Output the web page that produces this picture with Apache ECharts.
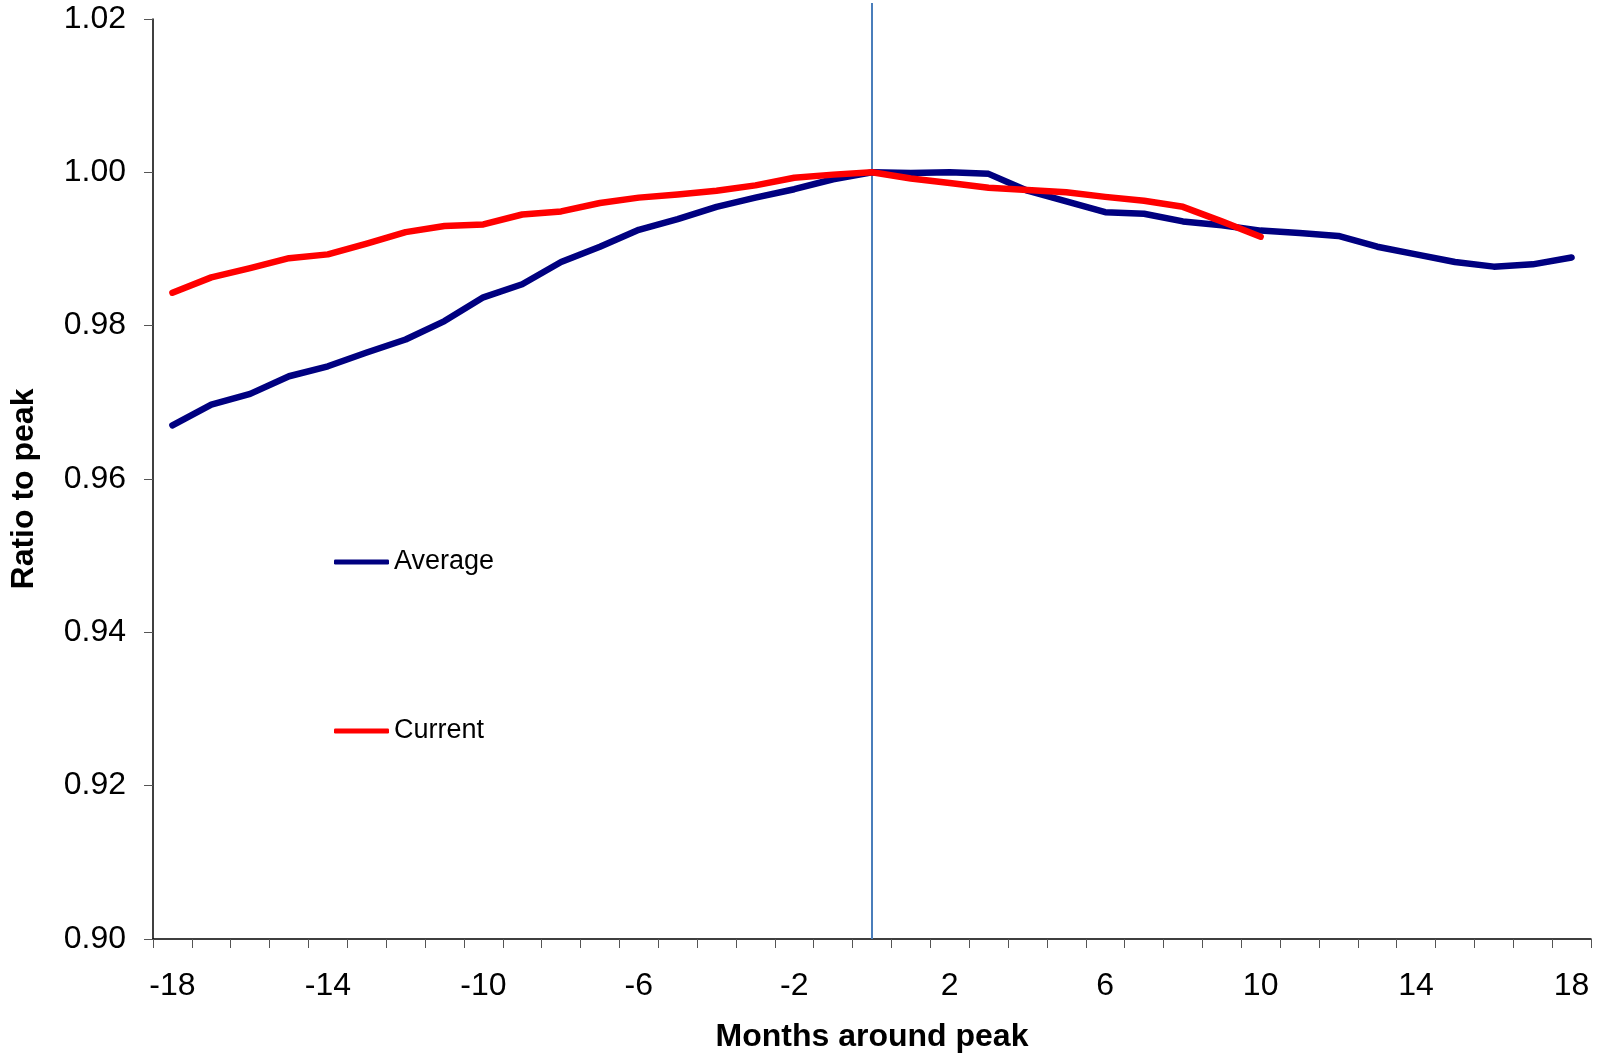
<!DOCTYPE html>
<html>
<head>
<meta charset="utf-8">
<script src="https://cdn.jsdelivr.net/npm/echarts@6/dist/echarts.min.js"></script>
<style>
html,body{margin:0;padding:0;background:#fff;}
#chart{width:1609px;height:1058px;}
</style>
</head>
<body>
<div id="chart"></div>
<script>
const months = ['-18','-17','-16','-15','-14','-13','-12','-11','-10','-9','-8','-7','-6','-5','-4','-3','-2','-1','0','1','2','3','4','5','6','7','8','9','10','11','12','13','14','15','16','17','18'];
const average = [0.9670,0.9697,0.9711,0.9734,0.9747,0.9765,0.9782,0.9806,0.9837,0.9854,0.9883,0.9903,0.9925,0.9939,0.9955,0.9967,0.9978,0.9991,1.0000,
                 0.9999,1.0000,0.9998,0.9976,0.9962,0.9948,0.9946,0.9936,0.9931,0.9924,0.9921,0.9917,0.9903,0.9893,0.9883,0.9877,0.9880,0.9889];
const current = [0.9843,0.9863,0.9875,0.9888,0.9893,0.9907,0.9922,0.9930,0.9932,0.9945,0.9949,0.9960,0.9967,0.9971,0.9976,0.9983,0.9993,0.9997,1.0000,
                 0.9992,0.9986,0.9980,0.9977,0.9974,0.9968,0.9963,0.9955,0.9936,0.9916];
const peakMonth = '0';
const peakLine = [0.90, 1.0221];
const yTicks = {min: 0.90, max: 1.02, interval: 0.02};

const FONT = '"Liberation Sans", Arial, sans-serif';
const chart = echarts.init(document.getElementById('chart'));
chart.setOption({
  animation: false,
  backgroundColor: '#ffffff',
  grid: {left: 152, right: 18, top: 19, bottom: 117, containLabel: false},
  legend: [
    {data: ['Average'], orient: 'vertical', left: 334, top: 547, padding: 0,
     icon: 'roundRect', itemWidth: 55, itemHeight: 5,
     textStyle: {fontFamily: FONT, fontSize: 27, color: '#000', lineHeight: 30}},
    {data: ['Current'], orient: 'vertical', left: 334, top: 716, padding: 0,
     icon: 'roundRect', itemWidth: 55, itemHeight: 5,
     textStyle: {fontFamily: FONT, fontSize: 27, color: '#000', lineHeight: 30}}
  ],
  xAxis: {
    type: 'category',
    data: months,
    boundaryGap: true,
    name: 'Months around peak',
    nameLocation: 'middle',
    nameGap: 82,
    nameTextStyle: {fontFamily: FONT, fontSize: 32, fontWeight: 'bold', color: '#000'},
    axisLine: {lineStyle: {color: '#000', width: 1.5}},
    axisTick: {show: true, interval: 0, length: 9, lineStyle: {color: '#555'}},
    axisLabel: {interval: 3, margin: 31, fontFamily: FONT, fontSize: 32, color: '#000'},
    splitLine: {show: false}
  },
  yAxis: {
    type: 'value',
    min: yTicks.min, max: yTicks.max, interval: yTicks.interval,
    name: 'Ratio to peak',
    nameLocation: 'middle',
    nameGap: 113,
    nameTextStyle: {fontFamily: FONT, fontSize: 32, fontWeight: 'bold', color: '#000',
                    padding: [0, 20, 0, 0]},
    axisLine: {show: true, lineStyle: {color: '#000', width: 1.5}},
    axisTick: {show: true, length: 9, lineStyle: {color: '#555'}},
    axisLabel: {margin: 27, fontFamily: FONT, fontSize: 32, color: '#000',
                formatter: v => v.toFixed(2)},
    splitLine: {show: false}
  },
  series: [
    {
      name: 'Average', type: 'line', data: average, symbol: 'none',
      lineStyle: {color: '#000080', width: 6.5, cap: 'round', join: 'round'},
      itemStyle: {color: '#000080'}, z: 3
    },
    {
      name: 'Current', type: 'line', data: current, symbol: 'none',
      lineStyle: {color: '#ff0000', width: 6.5, cap: 'round', join: 'round'},
      itemStyle: {color: '#ff0000'}, z: 4
    },
    {
      name: 'Peak', type: 'line', clip: false, symbol: 'none',
      data: peakLine.map(v => [peakMonth, v]),
      lineStyle: {color: '#4a7ebb', width: 2},
      z: 2, silent: true
    }
  ]
});
</script>
</body>
</html>
